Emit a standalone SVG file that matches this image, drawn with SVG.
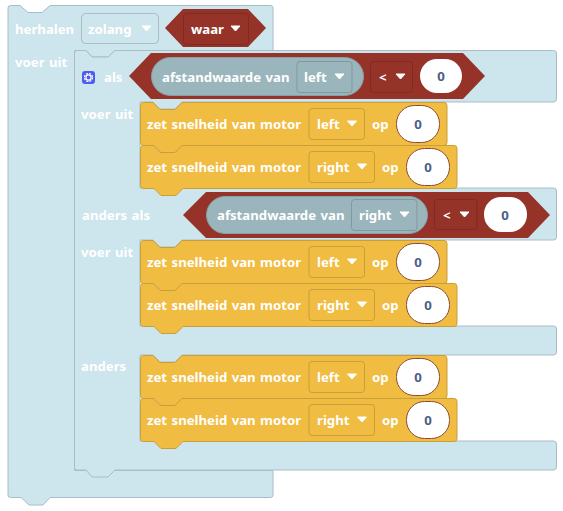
<svg xmlns="http://www.w3.org/2000/svg" width="563" height="511" viewBox="0 0 563 511">
<style>
text{font-family:"Noto Sans","Open Sans","Liberation Sans",sans-serif;font-weight:700;font-size:13.2px;word-spacing:1px;fill:#fff}
.blue{fill:#cde5ed;stroke:#aabcc5;stroke-width:1}
.yel{fill:#f0bc42;stroke:#c99f3a;stroke-width:1}
.red{fill:#953329}
.pill{fill:#9bb5bc;stroke:#86a0a8;stroke-width:1}
.dd-y{fill:#f0bc42;stroke:#c99f3a}
.dd-g{fill:#9bb5bc;stroke:#7f99a1}
.dd-r{fill:#953329;stroke:#7e2b23}
.dd-b{fill:#cde5ed;stroke:#aabcc5}
.in{fill:#fff;stroke:#8e4a35;stroke-width:1}
.inr{fill:#fff}
.num{fill:#4a5d85;text-anchor:middle}
.car{fill:#fff}
</style>
<defs>
<path id="caret" class="car" d="M0,0H9L4.500,5Z" stroke="#fff" stroke-width="1" stroke-linejoin="round"/>
<g id="mleft">
<rect class="dd-y" x="169" y="6.500" width="55.500" height="31" rx="3"/>
<text x="177" y="27">left</text>
<use href="#caret" x="207.500" y="19"/>
<text x="232" y="27">op</text>
<rect class="in" x="256.500" y="3.500" width="43" height="37" rx="18"/>
<text class="num" x="278" y="27">0</text>
</g>
<g id="mright">
<rect class="dd-y" x="169" y="6.500" width="65.500" height="31" rx="3"/>
<text x="177" y="27">right</text>
<use href="#caret" x="217.500" y="19"/>
<text x="242" y="27">op</text>
<rect class="in" x="266.500" y="3.500" width="43" height="37" rx="18"/>
<text class="num" x="288" y="27">0</text>
</g>
<g id="motorleft">
<path class="yel" d="M0.500,3.500Q0.500,0.500 3.500,0.500H13L20,7.500H35L42,0.500H304Q307,0.500 307,3.500V40.500Q307,43.500 304,43.500H43L36,50.500H21L14,43.500H3.500Q0.500,43.500 0.500,40.500Z"/>
<text x="7" y="27">zet snelheid van motor</text>
<use href="#mleft"/>
</g>
<g id="motorright">
<path class="yel" d="M0.500,3.500Q0.500,0.500 3.500,0.500H13L20,7.500H35L42,0.500H314Q317,0.500 317,3.500V40.500Q317,43.500 314,43.500H43L36,50.500H21L14,43.500H3.500Q0.500,43.500 0.500,40.500Z"/>
<text x="7" y="27">zet snelheid van motor</text>
<use href="#mright"/>
</g>
</defs>

<g id="herhalen">
<path class="blue" d="M8,8Q8,5.500 10.500,5.500H20L28,12.500H42L50,5.500H270.500Q273,5.500 273,8V50.500H115L108,57H92L86,50.500H74.500V470.500H273V495Q273,497.500 270.500,497.500H50L43,505H29L21,497.500H10.500Q8,497.500 8,495Z"/>
<text x="15" y="34">herhalen</text>
<text x="15" y="67">voer uit</text>
<rect class="dd-b" x="81.500" y="13.500" width="77" height="30" rx="4"/>
<text x="88" y="34">zolang</text>
<use href="#caret" x="142" y="26"/>
<g id="waar">
<path class="red" d="M165,28L183,9H248L266,28L248,47H183Z"/>
<rect class="dd-r" x="183.500" y="13.500" width="65" height="31" rx="3"/>
<text x="191" y="34">waar</text>
<use href="#caret" x="231" y="26"/>
</g>
</g>

<g id="als">
<path class="blue" d="M74.500,53Q74.500,50.500 77,50.500H86L92,57H108L115,50.500H553.500Q556.500,50.500 556.500,53V99Q556.500,102 553.500,102H182L175,109H160L153,102H140V188H553.500Q556.500,188 556.500,191V237Q556.500,240 553.500,240H182L175,247H160L153,240H140V326H553.500Q556.500,326 556.500,329V352Q556.500,355 553.500,355H182L175,362H160L153,355H140V441H553.500Q556.500,441 556.500,444V467Q556.500,470 553.500,470H115L108,477H92L86,470H77Q74.500,470 74.500,467.500Z"/>
<rect x="82" y="71" width="13" height="13" rx="3" fill="#4f5cf0"/>
<circle cx="88.500" cy="77.500" r="4" fill="none" stroke="#fff" stroke-width="1.200" stroke-dasharray="2.100 1.040"/>
<circle cx="88.500" cy="77.500" r="2.600" fill="none" stroke="#fff" stroke-width="1.200"/>
<text x="104" y="82">als</text>
<text x="81" y="119">voer uit</text>
<text x="82" y="220">anders als</text>
<text x="81" y="257">voer uit</text>
<text x="81" y="371">anders</text>
</g>

<g id="cond1">
<path class="red" d="M129,76L151,53H463L485,76L463,99H151Z"/>
<rect class="pill" x="151.500" y="57.500" width="212" height="38" rx="19"/>
<text x="162" y="82">afstandwaarde van</text>
<rect class="dd-g" x="297" y="61.500" width="55" height="31" rx="3"/>
<text x="304" y="82">left</text>
<use href="#caret" x="335" y="74"/>
<rect class="dd-r" x="370.500" y="61.500" width="42" height="31" rx="3"/>
<text x="379" y="82">&lt;</text>
<use href="#caret" x="396" y="74"/>
<rect class="inr" x="420" y="59" width="42" height="34" rx="17"/>
<text class="num" x="441" y="81">0</text>
</g>

<g id="motor1" transform="translate(140,102)"><use href="#motorleft"/></g>
<g id="motor2" transform="translate(140,145)"><use href="#motorright"/></g>

<g id="cond2">
<path class="red" d="M183,215L206,192H528L550,215L528,238H206Z"/>
<rect class="pill" x="206.500" y="196.500" width="221" height="37" rx="18.500"/>
<text x="217" y="220">afstandwaarde van</text>
<rect class="dd-g" x="351.500" y="199.500" width="65.500" height="31" rx="3"/>
<text x="359" y="220">right</text>
<use href="#caret" x="400" y="212"/>
<rect class="dd-r" x="434.500" y="199.500" width="42.500" height="30" rx="3"/>
<text x="443" y="220">&lt;</text>
<use href="#caret" x="460" y="212"/>
<rect class="inr" x="484" y="197" width="43" height="35" rx="17"/>
<text class="num" x="505" y="220">0</text>
</g>

<g id="motor3" transform="translate(140,240)"><use href="#motorleft"/></g>
<g id="motor4" transform="translate(140,283)"><use href="#motorright"/></g>
<g id="motor5" transform="translate(140,355)"><use href="#motorleft"/></g>
<g id="motor6" transform="translate(140,398)"><use href="#motorright"/></g>
</svg>
